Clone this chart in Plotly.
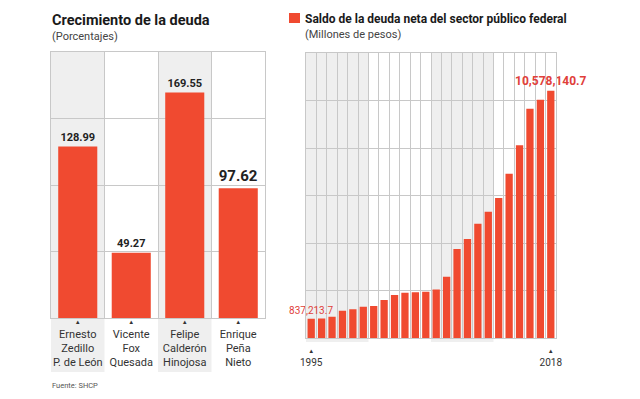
import plotly.graph_objects as go

W, H = 640, 399
def fx(p): return p / W
def fy(p): return 1 - p / H

# ---- data ----
presidentes = ["Ernesto<br>Zedillo<br>P. de León", "Vicente<br>Fox<br>Quesada",
               "Felipe<br>Calderón<br>Hinojosa", "Enrique<br>Peña<br>Nieto"]
crecimiento = [128.99, 49.27, 169.55, 97.62]

anios = [str(y) for y in range(1995, 2019)]
saldo = [837213.7, 850000, 920000, 1180000, 1240000, 1350000, 1380000, 1640000,
         1850000, 1950000, 1970000, 1990000, 2090000, 2630000, 3820000, 4240000,
         4900000, 5410000, 6000000, 7030000, 8250000, 9810000, 10200000, 10578140.7]
etiquetas_anios = ["1995", "2018"]

RED = "#f04a30"
TXT_RED = "#e0403a"
GRID = "#c8c8c8"
SHADE = "#efefef"
FONT = "Roboto"

tri = "<span style='font-size:6px'>▲</span>"

fig = go.Figure()

# left bars
left_sizes = [11, 11, 11, 15]
fig.add_trace(go.Bar(
    x=presidentes, y=crecimiento, width=0.73,
    marker=dict(color=RED, line=dict(width=0)),
    text=[f"<b>{v:.2f}</b>" for v in crecimiento],
    textposition="outside", cliponaxis=False, constraintext="none",
    textfont=dict(size=left_sizes, color="#222", family=FONT),
    xaxis="x", yaxis="y", showlegend=False, hoverinfo="skip",
))

# right bars
rtext = [""] * len(saldo)
rtext[0] = f"{saldo[0]:,.1f}"
rtext[-1] = f"<b>{saldo[-1]:,.1f}</b>"
rsizes = [10] * len(saldo)
rsizes[-1] = 12
fig.add_trace(go.Bar(
    x=anios, y=saldo, width=0.7,
    marker=dict(color=RED, line=dict(width=0)),
    text=rtext, textposition="outside", cliponaxis=False, constraintext="none",
    textfont=dict(size=rsizes, color=TXT_RED, family=FONT),
    xaxis="x2", yaxis="y2", showlegend=False, hoverinfo="skip",
))

ymax2 = 12190000
rticks = [f"{tri}<br>{a}" if a in etiquetas_anios else "" for a in anios]

fig.update_layout(
    width=W, height=H,
    margin=dict(l=0, r=0, t=0, b=0),
    paper_bgcolor="white", plot_bgcolor="rgba(0,0,0,0)",
    font=dict(family=FONT, color="#333"),
    xaxis=dict(domain=[fx(51), fx(265)], anchor="y", type="category",
               tickmode="array", tickvals=presidentes,
               ticktext=[f"{tri}<br>{p}" for p in presidentes],
               tickson="boundaries", tickangle=0, automargin=False,
               ticklabelstandoff=-9,
               ticks="", showgrid=True, gridcolor=GRID, gridwidth=1,
               showline=True, mirror=True, linecolor=GRID, linewidth=1,
               zeroline=False, tickfont=dict(size=11, color="#333", family=FONT)),
    yaxis=dict(domain=[fy(318.3), fy(52)], anchor="x", range=[0, 200], dtick=50,
               showticklabels=False, ticks="", showgrid=True, gridcolor=GRID,
               automargin=False,
               showline=True, mirror=True, linecolor=GRID, zeroline=False),
    xaxis2=dict(domain=[fx(306), fx(556)], anchor="y2", type="category",
                tickmode="array", tickvals=anios, ticktext=rticks, tickson="boundaries",
                tickangle=0, automargin=False, ticklabelstandoff=2,
                ticks="", showgrid=True, gridcolor=GRID, gridwidth=1,
                showline=True, mirror=True, linecolor=GRID, zeroline=False,
                tickfont=dict(size=10, color="#333", family=FONT)),
    yaxis2=dict(domain=[fy(338.3), fy(53)], anchor="x2", range=[0, ymax2 * 1.0005],
                tick0=0, dtick=ymax2 / 6, showticklabels=False, ticks="",
                automargin=False,
                showgrid=True, gridcolor=GRID, showline=True, mirror=True,
                linecolor=GRID, zeroline=False),
)

shapes = []
for x0, x1 in [(-0.5, 0.5), (1.5, 2.5)]:
    shapes.append(dict(type="rect", xref="x", yref="paper", x0=x0, x1=x1,
                       y0=fy(372), y1=fy(52), fillcolor=SHADE, line=dict(width=0), layer="below"))
for x0, x1 in [(-0.5, 5.5), (11.5, 17.5)]:
    shapes.append(dict(type="rect", xref="x2", yref="paper", x0=x0, x1=x1,
                       y0=fy(342), y1=fy(53), fillcolor=SHADE, line=dict(width=0), layer="below"))
shapes.append(dict(type="rect", xref="paper", yref="paper", x0=fx(289), x1=fx(300),
                   y0=fy(23), y1=fy(13), fillcolor=RED, line=dict(width=0)))
fig.update_layout(shapes=shapes)

ann = [
    dict(text="<b>Crecimiento de la deuda</b>", x=fx(50), y=fy(21), size=14.5, color="#1a1a1a"),
    dict(text="(Porcentajes)", x=fx(50), y=fy(37), size=11, color="#444"),
    dict(text="<b>Saldo de la deuda neta del sector público federal</b>", x=fx(303), y=fy(19), size=12, color="#1a1a1a"),
    dict(text="(Millones de pesos)", x=fx(303), y=fy(34), size=11, color="#444"),
    dict(text="Fuente: SHCP", x=fx(50), y=fy(385), size=7.5, color="#555"),
]
for a in ann:
    fig.add_annotation(text=a["text"], x=a["x"], y=a["y"], xref="paper", yref="paper",
                       xanchor="left", yanchor="middle", showarrow=False,
                       font=dict(size=a["size"], color=a["color"], family=FONT))

fig.write_html("out.html", config={"displayModeBar": False, "staticPlot": True},
               post_script="document.body.style.margin='0';document.body.style.overflow='hidden';")
